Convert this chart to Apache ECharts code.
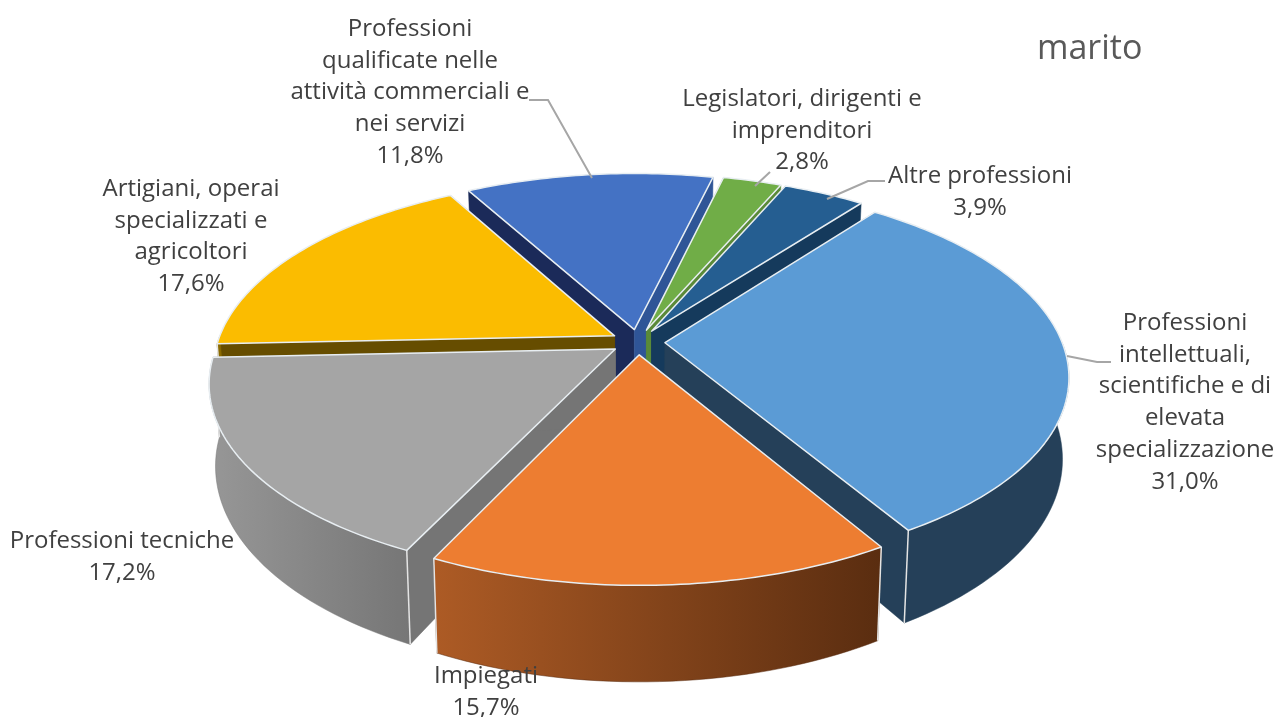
<!DOCTYPE html>
<html><head><meta charset="utf-8">
<style>html,body{margin:0;padding:0;background:#fff}#c{width:1279px;height:717px}</style>
<script src="https://cdn.jsdelivr.net/npm/echarts@6/dist/echarts.min.js"></script>
</head><body><div id="c"></div>
<script>
const categories = ['Legislatori, dirigenti e\nimprenditori','Altre professioni','Professioni\nintellettuali,\nscientifiche e di\nelevata\nspecializzazione','Impiegati','Professioni tecniche','Artigiani, operai\nspecializzati e\nagricoltori','Professioni\nqualificate nelle\nattività commerciali e\nnei servizi'];
const values = [2.8,3.9,31.0,15.7,17.2,17.6,11.8];
const topColors = ['#70AD47','#255E91','#5B9BD5','#ED7D31','#A5A5A5','#FBBC00','#4472C4'];
const rimLeft = ['#5A8A38','#153A5C','#254059','#AD5B25','#979797','#8A6A00','#2A4478'];
const rimRight = ['#5A8A38','#153A5C','#254059','#5A2D10','#767676','#8A6A00','#2A4478'];
const wallStart = ['#5A8A38','#153A5C','#254059','#6E3A15','#757575','#664D00','#1B2A59'];
const wallEnd = ['#5A8A38','#153A5C','#254059','#6E3A15','#757575','#664D00','#2F5597'];
const labelCenters = [[802,99],[980,176],[1185,323],[486,676],[122,541],[191,189],[410,29]];
const leaderLines = [[[770,172],[755,186]],[[885,181],[868,181],[827,199]],[[1111,362],[1097,362],[1067,356]],null,null,null,[[529,100],[548,100],[592,178]]];

const CX=638,CY=342,RX=397,RY=186.5,KX=0.17,K=0.17,EXPLODE=0.068,H=79,CONV=0.985,START=13.4,LH=31.8;
const FONT='"Open Sans"';
const rad=d=>d*Math.PI/180;
function proj(X,Y){const s=1/(1+K*Y),sx=1/(1+KX*Y);return [CX+X*RX*sx,CY-Y*RY*s,s];}
const total=values.reduce((a,b)=>a+b,0);
let acc=START;
const slices=values.map((v,i)=>{const a=acc,b=acc+v/total*360;acc=b;const m=(a+b)/2;
  return {i,a,b,m,ox:Math.sin(rad(m))*EXPLODE,oy:Math.cos(rad(m))*EXPLODE};});
const depthRank={};
slices.slice().sort((p,q)=>q.oy-p.oy).forEach((s,r)=>depthRank[s.i]=r);
function rim(s,t){return proj(Math.sin(rad(t))+s.ox,Math.cos(rad(t))+s.oy);}
function tip(s){return proj(s.ox,s.oy);}
function low(p){return [CX+(p[0]-CX)*CONV,p[1]+H*p[2]];}
function xy(p){return [p[0],p[1]];}
function wall(p,q,color,z){return {type:'polygon',z2:z,shape:{points:[xy(p),xy(q),low(q),low(p)]},style:{fill:color,stroke:color,lineWidth:0.5}};}
function norm(t){t=t%360;return t<0?t+360:t;}

function renderItem(params){
  const s=slices[params.dataIndex],i=s.i,base=depthRank[i]*10,ch=[];
  const T=tip(s),A=rim(s,s.a),B=rim(s,s.b);
  // cut faces first, the outer rim covers any that face away
  ch.push(wall(T,A,wallStart[i],base+1),wall(T,B,wallEnd[i],base+1));
  // outer rim, only its front half can be seen
  const rp=[];
  for(let off of [0,360]){const l=Math.max(s.a,90+off),h=Math.min(s.b,270+off);
    if(h>l){for(let t=l;t<h;t+=1.5)rp.push(rim(s,t));rp.push(rim(s,h));}}
  if(rp.length){
    const pts=rp.map(xy).concat(rp.slice().reverse().map(low));
    const xs=pts.map(p=>p[0]);
    ch.push({type:'polygon',z2:base+2,shape:{points:pts},style:{stroke:rimRight[i],lineWidth:0.5,
      fill:new echarts.graphic.LinearGradient(Math.min(...xs),0,Math.max(...xs),0,[{offset:0,color:rimLeft[i]},{offset:1,color:rimRight[i]}],true)}});
  }
  // light edge on visible outer corners
  [[A,s.a],[B,s.b]].forEach(([p,t])=>{const n=norm(t);if(n>90&&n<270)ch.push({type:'polyline',z2:base+3,shape:{points:[xy(p),low(p)]},style:{stroke:'#E4E4E4',lineWidth:1.5,fill:null}});});
  // top face
  const tp=[xy(T)];
  for(let t=s.a;t<s.b;t+=1)tp.push(xy(rim(s,t)));
  tp.push(xy(B));
  ch.push({type:'polygon',z2:base+4,shape:{points:tp},style:{fill:topColors[i],stroke:'#E8EEF2',lineWidth:1.5,lineJoin:'round'}});
  // leader line and label
  if(leaderLines[i])ch.push({type:'polyline',z2:200,shape:{points:leaderLines[i]},style:{stroke:'#A6A6A6',lineWidth:2,fill:null}});
  const lc=labelCenters[i];
  const txt=categories[i]+'\n'+values[i].toFixed(1).replace('.',',')+'%';
  ch.push({type:'text',z2:210,x:lc[0],y:lc[1]-LH/2,style:{text:txt,fill:'#404040',font:'24px '+FONT,lineHeight:LH,align:'center',verticalAlign:'top'}});
  return {type:'group',children:ch};
}
const chart=echarts.init(document.getElementById('c'),null,{renderer:'canvas'});
chart.setOption({
  animation:false,
  title:{text:'marito',left:1032,top:27,textStyle:{fontFamily:FONT,fontSize:34,fontWeight:'normal',color:'#595959'}},
  series:[{type:'custom',coordinateSystem:'none',renderItem,clip:false,silent:true,
    data:values.map((v,i)=>({name:categories[i],value:v}))}]
});
</script></body></html>
